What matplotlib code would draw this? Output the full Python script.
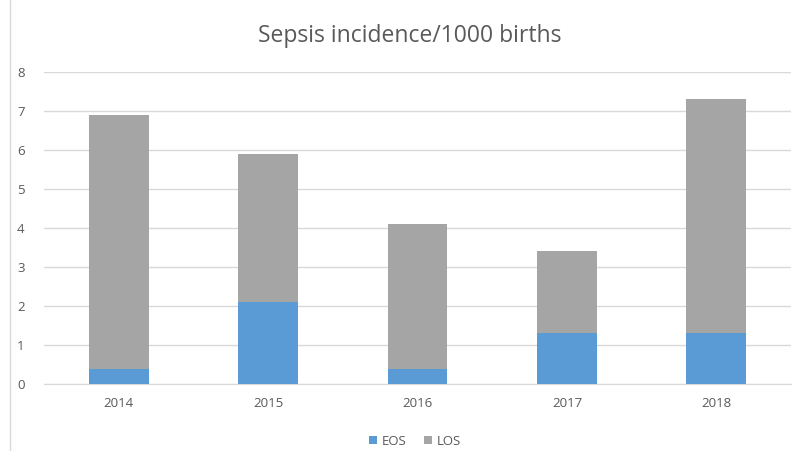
import numpy as np
import matplotlib.pyplot as plt
from matplotlib.lines import Line2D

plt.rcParams['font.family'] = ['Open Sans', 'DejaVu Sans']

# data
years = ['2014', '2015', '2016', '2017', '2018']
eos = [0.4, 2.1, 0.4, 1.3, 1.3]
los = [6.5, 3.8, 3.7, 2.1, 6.0]

eos_color = '#5B9BD5'
los_color = '#A5A5A5'
text_color = '#595959'

fig = plt.figure(figsize=(7.95, 4.51), dpi=100)
ax = fig.add_axes([0.0555, 0.148, 0.9395, 0.693])

x = np.arange(len(years))
ax.bar(x, eos, width=0.4, color=eos_color, label='EOS', zorder=3)
ax.bar(x, los, width=0.4, bottom=eos, color=los_color, label='LOS', zorder=3)

ax.set_xlim(-0.5, len(years) - 0.5)
ax.set_ylim(0, 8)
ax.set_yticks(range(0, 9))
ax.set_xticks(x)
ax.set_xticklabels(years)
ax.grid(axis='y', color='#D9D9D9', linewidth=1, zorder=0)
for s in ['top', 'right', 'left']:
    ax.spines[s].set_visible(False)
ax.spines['bottom'].set_color('#D9D9D9')
ax.tick_params(axis='both', length=0, labelsize=9.5, colors=text_color)
ax.tick_params(axis='y', pad=14)
ax.tick_params(axis='x', pad=9)

fig.text(0.516, 0.92, 'Sepsis incidence/1000 births', ha='center', va='center',
         fontsize=16.5, color=text_color)

fig.legend(loc='center', bbox_to_anchor=(0.522, 0.022), ncol=2, frameon=False,
           fontsize=9.5, labelcolor=text_color, handlelength=0.6, handleheight=0.6,
           handletextpad=0.3, columnspacing=1.4)

# left frame line of the chart area
fig.add_artist(Line2D([0.0125, 0.0125], [0.0, 1.0], color='#D9D9D9', linewidth=1))

fig.savefig('out.png', dpi=100)
